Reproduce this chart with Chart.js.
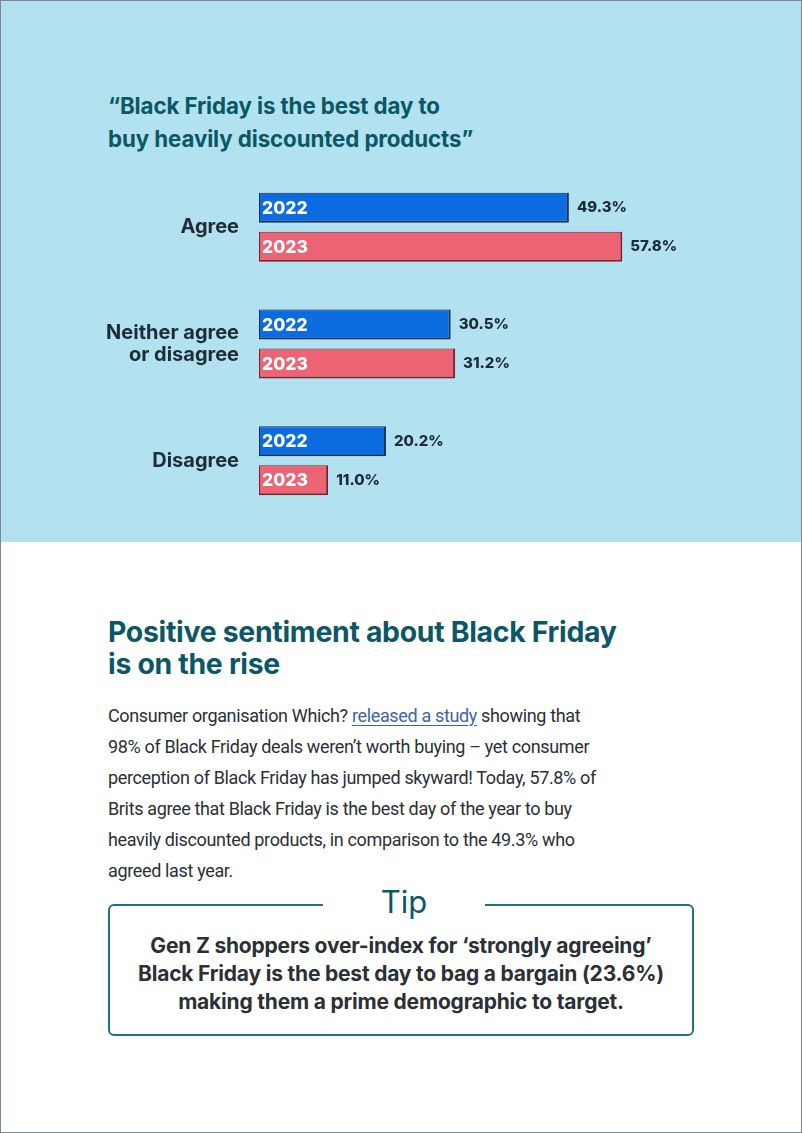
<!DOCTYPE html>
<html>
<head>
<meta charset="utf-8">
<script src="https://cdn.jsdelivr.net/npm/chart.js@4.4.1/dist/chart.umd.min.js"></script>
<style>
  html, body { margin: 0; padding: 0; background: #fff; }
  #page {
    position: relative; box-sizing: border-box; width: 802px; height: 1133px;
    border: 1px solid #7b8891; background: #fff; overflow: hidden;
    font-family: Inter, "Noto Sans", sans-serif;
  }
  #top { position: absolute; left: 0; top: 0; width: 800px; height: 541px; background: #b2e2ef; }
  #quote {
    position: absolute; left: 107px; top: 88px; margin: 0;
    font-size: 22.3px; line-height: 33px; font-weight: 700; color: #0c5766; letter-spacing: -0.1px;
  }
  #chartBox { position: absolute; left: 0; top: 145px; width: 800px; height: 396px; }
  #heading {
    position: absolute; left: 107px; top: 615px; margin: 0;
    font-size: 28.4px; line-height: 32px; font-weight: 700; color: #0c5766; letter-spacing: -0.3px;
  }
  #body {
    position: absolute; left: 107px; top: 699px; width: 640px; margin: 0;
    font-family: Roboto, sans-serif; font-size: 18px; line-height: 31px; color: #2b2f36; letter-spacing: -0.35px;
  }
  #body a { color: #3d63ad; text-decoration: underline; text-underline-offset: 3px; }
  #tip {
    position: absolute; left: 107px; top: 903px; width: 586px; height: 132px; box-sizing: border-box;
    border: 2px solid #24707c; border-radius: 6px;
  }
  #tipTitle {
    position: absolute; left: 213px; top: -24px; width: 162px; text-align: center; background: #fff;
    font-size: 31px; line-height: 40px; color: #0c5766; font-weight: 400;
  }
  #tipText {
    position: absolute; left: 0; top: 26px; width: 582px; text-align: center;
    font-size: 21px; line-height: 28px; font-weight: 700; color: #2b2f36; letter-spacing: -0.2px;
  }
</style>
</head>
<body>
<div id="page">
  <div id="top">
    <p id="quote">“Black Friday is the best day to<br>buy heavily discounted products”</p>
    <div id="chartBox"><canvas id="bars" width="800" height="396"></canvas></div>
  </div>
  <p id="heading">Positive sentiment about Black Friday<br>is on the rise</p>
  <p id="body">Consumer organisation Which? <a href="#">released a study</a> showing that<br>98% of Black Friday deals weren’t worth buying – yet consumer<br>perception of Black Friday has jumped skyward! Today, 57.8% of<br>Brits agree that Black Friday is the best day of the year to buy<br>heavily discounted products, in comparison to the 49.3% who<br>agreed last year.</p>
  <div id="tip">
    <div id="tipTitle">Tip</div>
    <div id="tipText">Gen Z shoppers over-index for ‘strongly agreeing’<br>Black Friday is the best day to bag a bargain (23.6%)<br>making them a prime demographic to target.</div>
  </div>
</div>
<script>
  // data
  const answers = ['Agree', ['Neither agree', 'or disagree'], 'Disagree'];
  const years = ['2022', '2023'];
  const share2022 = [49.3, 30.5, 20.2];
  const share2023 = [57.8, 31.2, 11.0];

  const fillColours = ['#0b6be0', '#ec6373'];
  const edgeColours = ['#1a2f55', '#7c1f2b'];

  // year inside the bar, value to the right of it
  const barLabels = {
    id: 'barLabels',
    afterDatasetsDraw(chart) {
      const ctx = chart.ctx;
      ctx.save();
      ctx.textBaseline = 'middle';
      chart.data.datasets.forEach((ds, i) => {
        chart.getDatasetMeta(i).data.forEach((bar, j) => {
          ctx.fillStyle = '#ffffff';
          ctx.font = '800 17.5px Inter';
          ctx.textAlign = 'left';
          ctx.fillText(ds.label, bar.base + 3, bar.y + 1);
          ctx.fillStyle = '#1e2a36';
          ctx.font = '800 15px Inter';
          ctx.fillText(ds.data[j].toFixed(1) + '%', bar.x + 8, bar.y);
        });
      });
      ctx.restore();
    }
  };

  new Chart(document.getElementById('bars'), {
    type: 'bar',
    data: {
      labels: answers,
      datasets: [
        { label: years[0], data: share2022, backgroundColor: fillColours[0], borderColor: edgeColours[0] },
        { label: years[1], data: share2023, backgroundColor: fillColours[1], borderColor: edgeColours[1] }
      ]
    },
    options: {
      indexAxis: 'y',
      responsive: false,
      animation: false,
      layout: { padding: { left: 0, right: 102, top: 0, bottom: 0 } },
      datasets: {
        bar: {
          categoryPercentage: 0.668,
          barPercentage: 0.77,
          borderWidth: { top: 1, left: 1, right: 2, bottom: 2 },
          borderSkipped: false
        }
      },
      scales: {
        x: { display: false, min: 0, max: 70 },
        y: {
          grid: { display: false },
          border: { display: false },
          ticks: {
            color: '#1f2b38',
            font: { family: 'Inter', size: 20, weight: '700', lineHeight: 1.1 },
            padding: 12
          },
          afterFit(scale) { scale.width = 258; }
        }
      },
      plugins: { legend: { display: false }, tooltip: { enabled: false } }
    },
    plugins: [barLabels]
  });
</script>
</body>
</html>
